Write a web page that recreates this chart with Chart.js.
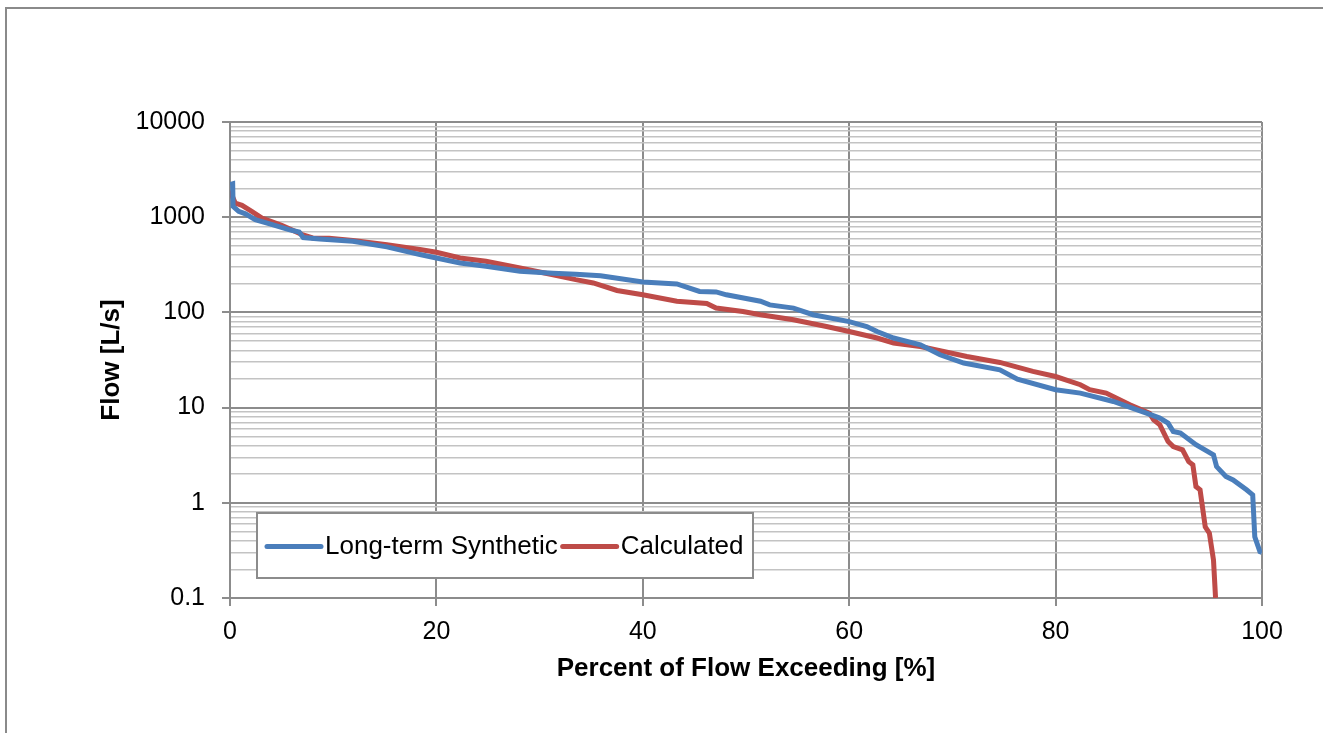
<!DOCTYPE html>
<html>
<head>
<meta charset="utf-8">
<script src="https://cdn.jsdelivr.net/npm/chart.js@4/dist/chart.umd.min.js"></script>
<style>
  html, body { margin: 0; padding: 0; background: #fff; overflow: hidden; }
  #frame { position: absolute; left: 5px; top: 7px; width: 1400px; height: 800px; border: 2px solid #8a8a8a; box-sizing: border-box; }
  #wrap { position: absolute; left: 0; top: 0; width: 1323px; height: 733px; }
</style>
</head>
<body>
<div id="frame"></div>
<div id="wrap"><canvas id="flowChart"></canvas></div>
<script>
// Curva de duración de caudales
var synPct  = [0, 0.26, 0.3, 0.84, 1.5, 2.45, 4.1, 5.7, 6.7, 7.1, 8.7, 11.9, 15.2, 18.4, 20, 22.3, 24.8, 28.1, 31.3, 33.5, 35.9,
               40, 43.3, 45.5, 47.1, 48.1, 51.4, 52.3, 54.6, 56.5, 60, 61.7, 62.7, 64.3, 66.9, 68.8, 71.1, 74.6, 76.3,
               80, 82.4, 85.6, 88.8, 90.1, 90.9, 91.4, 92.1, 93.6, 95.3, 95.6, 96.5, 97.2, 98.5, 99.1, 99.3, 99.8, 100];
var synFlow = [2200, 2240, 1300, 1150, 1085, 944, 836, 741, 700, 612, 590, 558, 488, 405, 373, 330, 305, 270, 258, 252, 243,
               209, 199, 166, 164, 153, 131, 120, 111, 94.5, 80, 71, 63, 53.8, 45.7, 35.9, 29.4, 24.9, 19.9,
               15.4, 14.2, 11.6, 8.75, 7.76, 6.87, 5.6, 5.4, 4.07, 3.19, 2.4, 1.89, 1.74, 1.37, 1.21, 0.44, 0.307, 0.3];

var calcPct  = [0, 0.1, 0.5, 1.16, 2.1, 3.1, 5.0, 7.0, 8.0, 9.6, 11.9, 15.2, 18.4, 20, 22.3, 24.8, 28.1, 31.3, 33.5, 35.2, 37.5,
                40, 43.3, 46.2, 47.1, 49.7, 51.4, 54.6, 57.8, 60, 62.7, 64.3, 66.9, 71.4, 74.6, 77.8, 80, 82.4, 83.3, 84.9,
                87.2, 89.1, 89.5, 90.1, 90.9, 91.4, 92.3, 92.9, 93.3, 93.6, 94.0, 94.5, 94.9, 95.3, 95.5];
var calcFlow = [1800, 1800, 1410, 1333, 1150, 980, 822, 656, 606, 600, 568, 515, 457, 428, 373, 344, 293, 249, 221, 204, 170,
                153, 131, 124, 111, 102, 94.6, 83.8, 71.2, 63, 53.8, 47.7, 43.9, 34.4, 29.8, 24, 21.2, 17.4, 15.4, 14.2,
                10.7, 8.75, 7.45, 6.6, 4.4, 3.9, 3.6, 2.71, 2.5, 1.48, 1.37, 0.56, 0.48, 0.25, 0.1];

var seriesNames = ['Long-term Synthetic', 'Calculated'];
var xTicks = [0, 20, 40, 60, 80, 100];
var yMajors = [0.1, 1, 10, 100, 1000, 10000];

var colorSyn = '#4a7ebb';
var colorCalc = '#be4b48';
var colorGridMajor = '#8c8c8c';
var colorGridMinor = '#c3c3c3';
var fontFamily = '"Liberation Sans", Arial, sans-serif';

function toPoints(xs, ys) {
    return xs.map(function (x, i) { return { x: x, y: ys[i] }; });
}

// marcas del eje log: 1..9 x 10^n
var yTickValues = [];
for (var e = -1; e < 4; e++) {
    for (var m = 1; m < 10; m++) {
        yTickValues.push(Number((m * Math.pow(10, e)).toPrecision(2)));
    }
}
yTickValues.push(10000);

function isMajor(v) {
    return yMajors.indexOf(v) !== -1;
}

// leyenda dentro del área del gráfico
var insideLegend = {
    id: 'insideLegend',
    afterDraw: function (chart) {
        var ctx = chart.ctx;
        var area = chart.chartArea;
        var left = area.left + 27, top = area.bottom - 85, w = 496, h = 65;
        ctx.save();
        ctx.fillStyle = '#fff';
        ctx.fillRect(left, top, w, h);
        ctx.strokeStyle = colorGridMajor;
        ctx.lineWidth = 2;
        ctx.strokeRect(left, top, w, h);
        ctx.font = '26px ' + fontFamily;
        ctx.textBaseline = 'middle';
        ctx.lineCap = 'round';
        var cy = top + h / 2 + 1;
        var x = left + 10;
        chart.data.datasets.forEach(function (ds) {
            ctx.strokeStyle = ds.borderColor;
            ctx.lineWidth = 5;
            ctx.beginPath();
            ctx.moveTo(x, cy);
            ctx.lineTo(x + 54, cy);
            ctx.stroke();
            ctx.fillStyle = '#000';
            ctx.fillText(ds.label, x + 58, cy);
            x += 58 + ctx.measureText(ds.label).width + 5;
        });
        ctx.restore();
    }
};

var ctx = document.getElementById('flowChart').getContext('2d');
var flowChart = new Chart(ctx, {
    type: 'line',
    data: {
        datasets: [{
            label: seriesNames[0],
            data: toPoints(synPct, synFlow),
            borderColor: colorSyn,
            backgroundColor: colorSyn,
            borderWidth: 5,
            pointRadius: 0,
            tension: 0
        }, {
            label: seriesNames[1],
            data: toPoints(calcPct, calcFlow),
            borderColor: colorCalc,
            backgroundColor: colorCalc,
            borderWidth: 5,
            pointRadius: 0,
            tension: 0
        }]
    },
    options: {
        responsive: true,
        maintainAspectRatio: false,
        animation: false,
        layout: { padding: { left: 0, top: 122, right: 61, bottom: 0 } },
        plugins: {
            legend: { display: false },
            tooltip: { enabled: false }
        },
        scales: {
            x: {
                type: 'linear',
                min: 0,
                max: 100,
                afterBuildTicks: function (scale) {
                    scale.ticks = xTicks.map(function (v) { return { value: v }; });
                },
                afterFit: function (scale) { scale.height = 135; },
                ticks: {
                    color: '#000',
                    font: { family: fontFamily, size: 25 },
                    padding: 11,
                    maxRotation: 0
                },
                grid: { color: colorGridMajor, lineWidth: 2, tickLength: 8, tickColor: colorGridMajor },
                border: { color: colorGridMajor, width: 2 },
                title: {
                    display: true,
                    text: 'Percent of Flow Exceeding [%]',
                    color: '#000',
                    font: { family: fontFamily, size: 26, weight: 'bold' },
                    padding: { top: 0, bottom: 49 }
                }
            },
            y: {
                type: 'logarithmic',
                min: 0.1,
                max: 10000,
                afterBuildTicks: function (scale) {
                    scale.ticks = yTickValues.map(function (v) { return { value: v }; });
                },
                afterFit: function (scale) { scale.width = 230; },
                ticks: {
                    autoSkip: false,
                    color: '#000',
                    font: { family: fontFamily, size: 25 },
                    padding: 17,
                    callback: function (value) {
                        return isMajor(value) ? String(value) : '';
                    }
                },
                grid: {
                    tickLength: 8,
                    color: function (c) { return isMajor(c.tick.value) ? colorGridMajor : colorGridMinor; },
                    lineWidth: function (c) { return isMajor(c.tick.value) ? 2 : 1.5; },
                    tickColor: function (c) { return isMajor(c.tick.value) ? colorGridMajor : 'rgba(0,0,0,0)'; }
                },
                border: { color: colorGridMajor, width: 2 },
                title: {
                    display: true,
                    text: 'Flow [L/s]',
                    color: '#000',
                    font: { family: fontFamily, size: 26, weight: 'bold' },
                    padding: { top: 96, bottom: 0 }
                }
            }
        }
    },
    plugins: [insideLegend]
});
</script>
</body>
</html>
